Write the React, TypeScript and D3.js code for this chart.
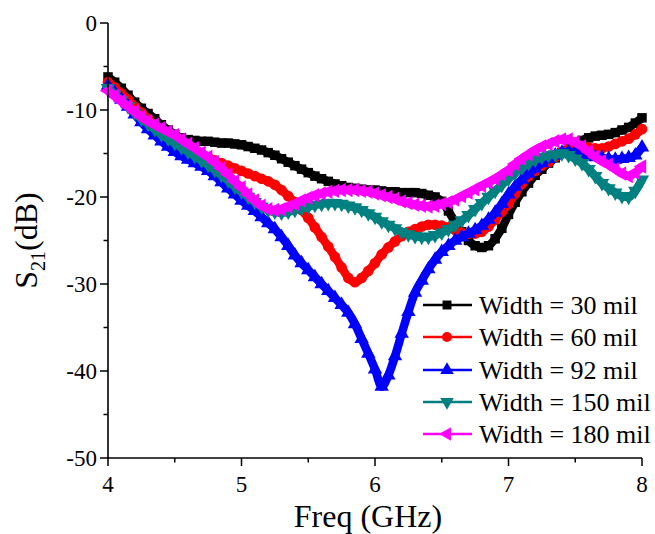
import React from "react";
import * as d3 from "d3";

const freq: number[] = d3.range(0, 81).map((i) => +(4 + i * 0.05).toFixed(2));

const w30 = [
  -6.2, -6.8, -7.5, -8.3, -9.1, -9.8, -10.4, -11.0, -11.7, -12.3,
  -12.8, -13.2, -13.4, -13.5, -13.6, -13.6, -13.7, -13.8, -13.8, -13.9,
  -14.0, -14.2, -14.4, -14.6, -14.9, -15.2, -15.6, -16.0, -16.4, -16.8,
  -17.2, -17.6, -17.9, -18.2, -18.5, -18.7, -18.9, -19.0, -19.1, -19.2,
  -19.2, -19.3, -19.4, -19.4, -19.5, -19.5, -19.5, -19.6, -19.8, -20.0,
  -20.5, -21.6, -22.9, -24.0, -25.0, -25.6, -25.8, -25.6, -24.8, -23.6,
  -22.0, -20.6, -19.4, -18.4, -17.5, -16.8, -16.1, -15.5, -14.9, -14.4,
  -13.9, -13.5, -13.2, -13.0, -12.9, -12.8, -12.6, -12.3, -12.0, -11.5,
  -10.9,
];
const w60 = [
  -6.8, -7.4, -8.1, -8.8, -9.6, -10.3, -11.0, -11.7, -12.3, -12.9,
  -13.4, -13.9, -14.3, -14.7, -15.0, -15.4, -15.8, -16.1, -16.4, -16.7,
  -17.0, -17.3, -17.6, -17.9, -18.2, -18.6, -19.2, -19.9, -20.6, -21.5,
  -22.4, -23.5, -24.6, -25.7, -26.9, -28.1, -29.3, -29.8, -29.3, -28.5,
  -27.6, -26.6, -25.8, -25.1, -24.5, -24.0, -23.7, -23.4, -23.2, -23.2,
  -23.3, -23.5, -23.8, -24.1, -24.2, -24.2, -24.0, -23.4, -22.6, -21.7,
  -20.8, -19.6, -18.5, -17.6, -17.0, -16.4, -16.0, -15.4, -14.8, -14.4,
  -14.2, -14.2, -14.3, -14.4, -14.4, -14.2, -13.9, -13.6, -13.3, -12.8,
  -12.2,
];
const w92 = [
  -7.2, -8.0, -8.8, -9.6, -10.5, -11.4, -12.2, -12.9, -13.6, -14.2,
  -14.8, -15.3, -15.7, -16.1, -16.5, -17.0, -17.6, -18.3, -19.0, -19.7,
  -20.4, -21.0, -21.6, -22.3, -23.0, -23.7, -24.6, -25.6, -26.7, -27.6,
  -28.4, -29.2, -30.0, -30.8, -31.6, -32.4, -33.3, -34.6, -36.3, -38.0,
  -39.8, -41.8, -40.5, -38.3, -35.7, -33.2, -31.0, -29.6, -28.3, -27.2,
  -26.3, -25.6, -25.0, -24.6, -24.2, -23.8, -23.3, -22.6, -21.8, -20.8,
  -19.7, -18.8, -18.0, -17.3, -16.7, -16.1, -15.6, -15.2, -14.9, -14.8,
  -14.9, -15.0, -15.2, -15.4, -15.5, -15.6, -15.7, -15.6, -15.5, -15.2,
  -14.3,
];
const w150 = [
  -7.5, -8.2, -8.9, -9.6, -10.3, -11.0, -11.6, -12.2, -12.8, -13.3,
  -13.8, -14.3, -14.8, -15.3, -15.8, -16.3, -16.9, -17.5, -18.1, -18.8,
  -19.4, -20.0, -20.6, -21.1, -21.5, -21.7, -21.8, -21.7, -21.5, -21.3,
  -21.1, -20.9, -20.8, -20.7, -20.7, -20.8, -21.0, -21.2, -21.5, -21.9,
  -22.3, -22.8, -23.2, -23.6, -24.0, -24.3, -24.5, -24.6, -24.6, -24.4,
  -24.1, -23.7, -23.2, -22.7, -22.1, -21.4, -20.7, -20.0, -19.3, -18.6,
  -17.9, -17.2, -16.6, -16.1, -15.7, -15.4, -15.2, -15.1, -15.0, -15.2,
  -15.6, -16.1, -16.8, -17.6, -18.4, -19.0, -19.5, -19.9, -20.0, -19.3,
  -18.0,
];
const w180 = [
  -7.8, -8.4, -9.0, -9.6, -10.2, -10.8, -11.3, -11.7, -12.1, -12.5,
  -12.9, -13.4, -13.9, -14.4, -14.9, -15.4, -16.0, -16.7, -17.4, -18.2,
  -18.9, -19.7, -20.4, -21.0, -21.4, -21.5, -21.4, -21.1, -20.8, -20.4,
  -20.1, -19.8, -19.6, -19.4, -19.3, -19.2, -19.2, -19.2, -19.3, -19.4,
  -19.6, -19.8, -20.0, -20.2, -20.5, -20.7, -20.9, -21.0, -21.1, -21.0,
  -20.8, -20.6, -20.3, -19.9, -19.5, -19.1, -18.7, -18.3, -17.9, -17.4,
  -16.9, -16.2, -15.6, -15.1, -14.6, -14.2, -13.9, -13.6, -13.4, -13.4,
  -13.7, -14.2, -14.8, -15.4, -15.9, -16.3, -16.8, -17.3, -17.6, -17.2,
  -16.5,
];

const seriesNames = ["Width = 30 mil", "Width = 60 mil", "Width = 92 mil", "Width = 150 mil", "Width = 180 mil"];
const seriesValues = [w30, w60, w92, w150, w180];
const seriesColors = ["#000000", "#ff0000", "#0000ff", "#008080", "#ff00ff"];
const seriesMarkers = ["square", "circle", "up", "down", "left"];

const xTicks = [4, 5, 6, 7, 8];
const xMinor = [4.5, 5.5, 6.5, 7.5];
const yTicks = [0, -10, -20, -30, -40, -50];
const yMinor = [-5, -15, -25, -35, -45];

const W = 655;
const H = 534;
const X0 = 108, X1 = 642, Y0 = 23, Y1 = 458;
const FONT = '"Liberation Serif", "Times New Roman", "DejaVu Serif", serif';
const TS = { fontFamily: FONT };

function markerPath(kind: string, size: number): { d: string; rot: number } {
  if (kind === "square") return { d: d3.symbol().type(d3.symbolSquare).size(size)()!, rot: 0 };
  if (kind === "circle") return { d: d3.symbol().type(d3.symbolCircle).size(size)()!, rot: 0 };
  const d = d3.symbol().type(d3.symbolTriangle).size(size)()!;
  if (kind === "up") return { d, rot: 0 };
  if (kind === "down") return { d, rot: 180 };
  return { d, rot: -90 };
}

export default function App() {
  const x = d3.scaleLinear().domain([4, 8]).range([X0, X1]);
  const y = d3.scaleLinear().domain([0, -50]).range([Y0, Y1]);
  const line = d3
    .line<[number, number]>()
    .x((d) => x(d[0]))
    .y((d) => y(d[1]))
    .curve(d3.curveMonotoneX);

  const legendY = [305, 337, 370, 402, 434];

  return (
    <svg
      width={W}
      height={H}
      style={{ position: "absolute", left: 0, top: 0, background: "#fff" }}
    >
      <rect width={W} height={H} fill="#fff" />
      {/* series */}
      {seriesValues.map((vals, si) => {
        const pts: [number, number][] = freq.map((f, i) => [f, vals[i]]);
        const m = markerPath(seriesMarkers[si], 90);
        return (
          <g key={si}>
            <path d={line(pts)!} fill="none" stroke={seriesColors[si]} strokeWidth={8.5} strokeLinejoin="round" />
            {pts.map((p, i) => (
              <path
                key={i}
                d={m.d}
                fill={seriesColors[si]}
                transform={`translate(${x(p[0])},${y(p[1])}) rotate(${m.rot})`}
              />
            ))}
          </g>
        );
      })}

      {/* axes */}
      <line x1={X0} x2={X0} y1={Y0} y2={Y1 + 0.75} stroke="#000" strokeWidth={1.6} />
      <line x1={X0 - 0.75} x2={X1} y1={Y1} y2={Y1} stroke="#000" strokeWidth={1.6} />
      {yTicks.map((t) => (
        <g key={t}>
          <line x1={X0 - 8} x2={X0} y1={y(t)} y2={y(t)} stroke="#000" strokeWidth={1.5} />
          <text x={X0 - 11} y={y(t) + 8} textAnchor="end" fontSize={23} style={TS}>
            {t === 0 ? "0" : `-${Math.abs(t)}`}
          </text>
        </g>
      ))}
      {yMinor.map((t) => (
        <line key={t} x1={X0 - 4.5} x2={X0} y1={y(t)} y2={y(t)} stroke="#000" strokeWidth={1.5} />
      ))}
      {xTicks.map((t) => (
        <g key={t}>
          <line x1={x(t)} x2={x(t)} y1={Y1} y2={Y1 + 8} stroke="#000" strokeWidth={1.5} />
          <text x={x(t)} y={Y1 + 34} textAnchor="middle" fontSize={23} style={TS}>
            {t}
          </text>
        </g>
      ))}
      {xMinor.map((t) => (
        <line key={t} x1={x(t)} x2={x(t)} y1={Y1} y2={Y1 + 4.5} stroke="#000" strokeWidth={1.5} />
      ))}

      {/* axis titles */}
      <text x={(X0 + X1) / 2 - 7} y={527} textAnchor="middle" fontSize={32} style={TS}>
        Freq (GHz)
      </text>
      <text transform={`translate(37,${(Y0 + Y1) / 2}) rotate(-90)`} textAnchor="middle" fontSize={32} style={TS}>
        S<tspan fontSize={20} dy={8}>21</tspan>
        <tspan dy={-8}>(dB)</tspan>
      </text>

      {/* legend */}
      {seriesNames.map((name, si) => {
        const m = markerPath(seriesMarkers[si], 80);
        const ly = legendY[si];
        return (
          <g key={si}>
            <line x1={423} x2={472} y1={ly} y2={ly} stroke={seriesColors[si]} strokeWidth={2.5} />
            <path d={m.d} fill={seriesColors[si]} transform={`translate(447,${ly}) rotate(${m.rot})`} />
            <text x={479} y={ly + 8.5} fontSize={26} style={TS}>
              {name}
            </text>
          </g>
        );
      })}
    </svg>
  );
}
